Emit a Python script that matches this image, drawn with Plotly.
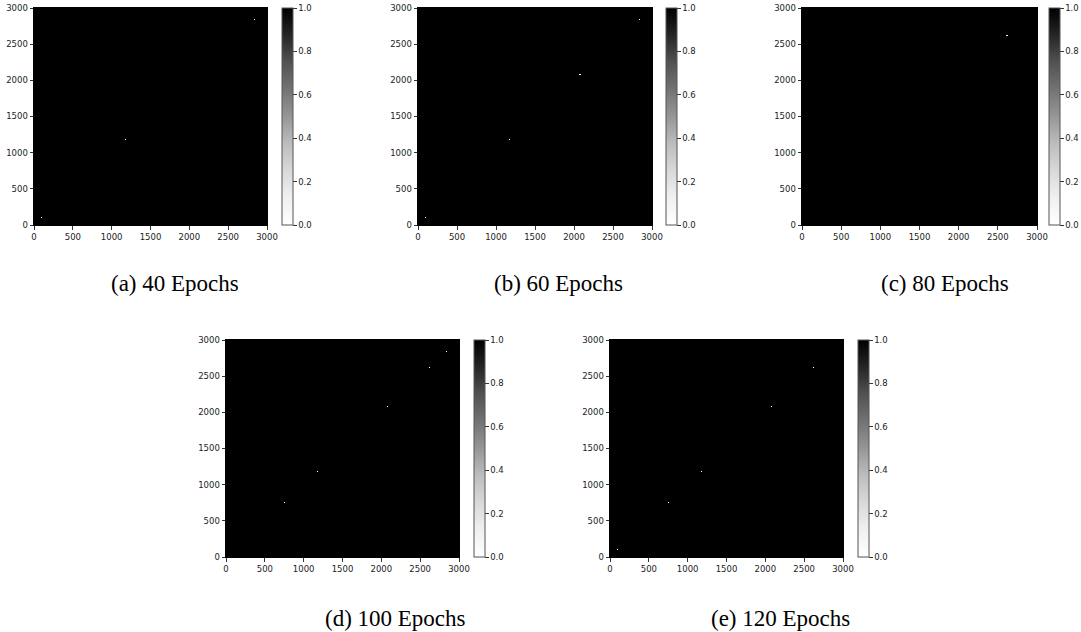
import numpy as np
import plotly.graph_objects as go

# ---- data ----
panel_labels = ["(a) 40 Epochs", "(b) 60 Epochs", "(c) 80 Epochs", "(d) 100 Epochs", "(e) 120 Epochs"]
# diagonal positions of the white (value 0) entries in each 3000x3000 matrix
dots_40 = [90, 1180, 2840]
dots_60 = [90, 1180, 2080, 2840]
dots_80 = [2620]
dots_100 = [750, 1180, 2080, 2620, 2840]
dots_120 = [90, 750, 1180, 2080, 2620]
axis_ticks = [0, 500, 1000, 1500, 2000, 2500, 3000]
cbar_ticks = [0.0, 0.2, 0.4, 0.6, 0.8, 1.0]
matrix_size = 3000

# ---- layout (pixels) ----
W, H = 1081, 632
panels = [
    # plot left, right, top, bottom, colorbar left, caption center x, caption center y
    dict(l=34, r=267, t=8, b=225, cb=282, cx=175, cy=284),
    dict(l=418, r=652, t=8, b=225, cb=666, cx=558, cy=284),
    dict(l=802, r=1037, t=8, b=225, cb=1049, cx=945, cy=284),
    dict(l=226, r=459, t=340, b=557, cb=474, cx=395, cy=618),
    dict(l=610, r=843, t=340, b=557, cb=858, cx=780, cy=618),
]
all_dots = [dots_40, dots_60, dots_80, dots_100, dots_120]

greys = [[0, "#ffffff"], [0.125, "#f0f0f0"], [0.25, "#d9d9d9"], [0.375, "#bdbdbd"],
         [0.5, "#969696"], [0.625, "#737373"], [0.75, "#525252"], [0.875, "#252525"],
         [1, "#000000"]]

N = 200
cell = matrix_size / N

fig = go.Figure()

for i, (p, dots, lab) in enumerate(zip(panels, all_dots, panel_labels)):
    z = np.ones((N, N))
    for d in dots:
        k = int(d // cell)
        z[k, k] = 0.0
    xa = "x" if i == 0 else f"x{i+1}"
    ya = "y" if i == 0 else f"y{i+1}"
    fig.add_trace(go.Heatmap(
        z=z, x0=cell / 2, dx=cell, y0=cell / 2, dy=cell,
        zmin=0, zmax=1, colorscale=greys, xaxis=xa, yaxis=ya,
        hoverinfo="skip",
        colorbar=dict(
            x=p["cb"] / W, xanchor="left", xpad=0, ypad=0,
            y=1 - p["t"] / H, yanchor="top", len=(p["b"] - p["t"]) / H, lenmode="fraction",
            thickness=11, thicknessmode="pixels",
            outlinewidth=1, outlinecolor="#555555",
            tickvals=cbar_ticks, ticktext=[f"{v:.1f}" for v in cbar_ticks],
            ticks="outside", ticklen=3.5, tickwidth=0.8, tickcolor="#333333",
            ticklabeloverflow="allow",
            tickfont=dict(family="DejaVu Sans", size=8.5, color="#222222"),
        ),
    ))
    axkw = dict(range=[0, matrix_size], tickvals=axis_ticks, ticks="outside", ticklen=3.5,
                tickwidth=0.8, tickcolor="#333333", showgrid=False, zeroline=False,
                showline=True, mirror=True, linecolor="#000000", linewidth=1,
                tickfont=dict(family="DejaVu Sans", size=8.5, color="#222222"))
    xname = "xaxis" if i == 0 else f"xaxis{i+1}"
    yname = "yaxis" if i == 0 else f"yaxis{i+1}"
    fig.layout[xname] = dict(domain=[p["l"] / W, p["r"] / W], anchor=ya, **axkw)
    fig.layout[yname] = dict(domain=[1 - p["b"] / H, 1 - p["t"] / H], anchor=xa, **axkw)
    fig.add_annotation(text=lab, x=p["cx"] / W, y=1 - p["cy"] / H, xref="paper", yref="paper",
                       xanchor="center", yanchor="middle", showarrow=False,
                       font=dict(family="Liberation Serif", size=23, color="#000000"))

fig.update_layout(width=W, height=H, margin=dict(l=0, r=0, t=0, b=0, autoexpand=False),
                  paper_bgcolor="white", plot_bgcolor="black", showlegend=False)

fig.write_html("out.html", config={"displayModeBar": False},
               post_script="document.body.style.margin='0';document.body.style.overflow='hidden';")
